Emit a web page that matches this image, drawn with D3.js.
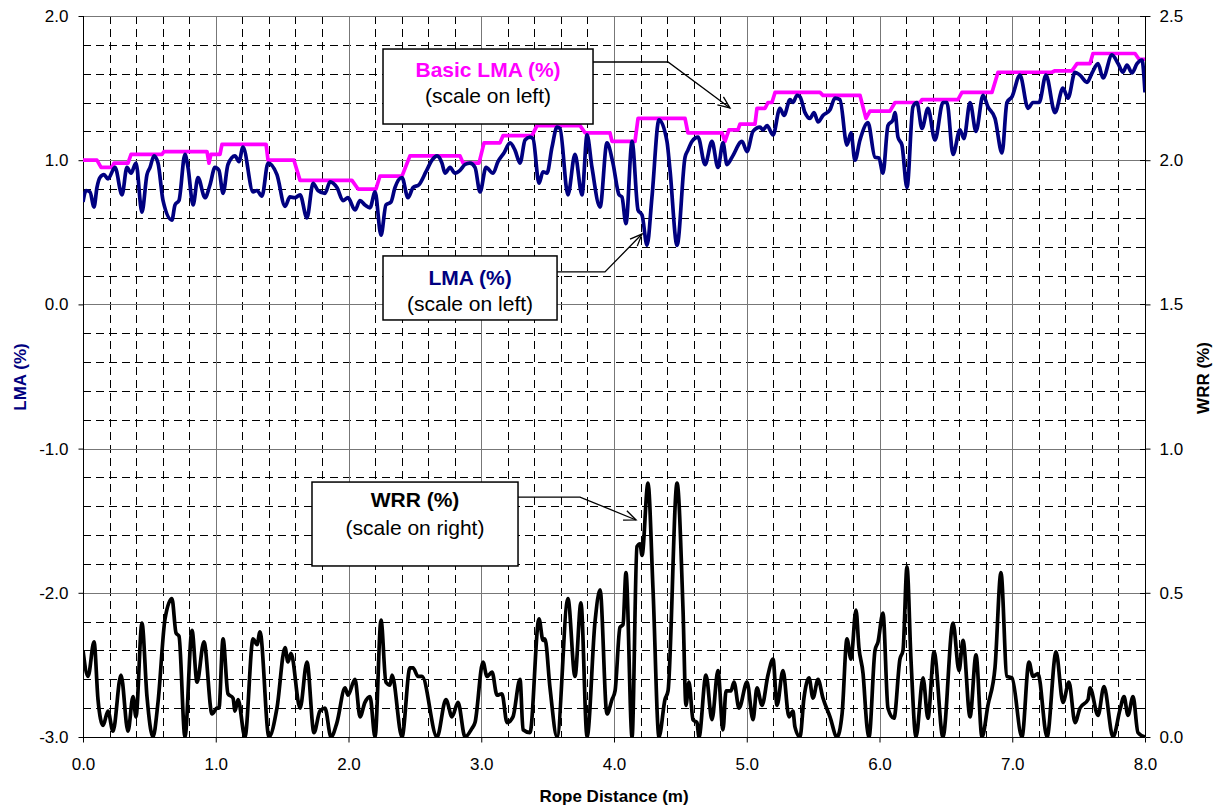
<!DOCTYPE html>
<html>
<head>
<meta charset="utf-8">
<script src="https://cdn.jsdelivr.net/npm/d3@7"></script>
<style>
  body { margin: 0; background: #fff; }
  svg { display: block; }
  text { font-family: Arial, "Liberation Sans", Helvetica, sans-serif; }
</style>
</head>
<body>
<svg id="chart" width="1222" height="806"></svg>
<script>
// ---- Data ----
// Basic LMA (%) - stepped baseline, left scale
const basicLmaDist = [0.000,0.105,0.136,0.218,0.234,0.339,0.362,0.595,0.610,0.934,0.949,0.964,1.032,1.047,1.379,1.394,1.589,1.635,2.026,2.072,2.207,2.237,2.403,2.463,2.840,2.863,2.983,3.021,3.141,3.164,3.382,3.420,3.744,3.782,3.970,3.985,4.158,4.181,4.535,4.557,4.814,4.836,4.866,4.934,4.949,5.062,5.077,5.138,5.160,5.190,5.213,5.552,5.574,5.853,5.898,5.928,6.079,6.117,6.305,6.320,6.591,6.621,6.847,6.893,7.299,7.322,7.450,7.488,7.586,7.608,7.925,7.955,8.000];
const basicLmaValues = [1.00,1.00,0.95,0.95,0.98,0.98,1.04,1.04,1.06,1.06,0.98,1.04,1.04,1.11,1.11,1.00,1.00,0.86,0.86,0.80,0.80,0.89,0.89,1.03,1.03,0.98,0.98,1.12,1.12,1.17,1.17,1.24,1.24,1.19,1.19,1.13,1.13,1.29,1.29,1.19,1.19,1.13,1.21,1.21,1.25,1.25,1.36,1.36,1.40,1.40,1.47,1.47,1.45,1.45,1.29,1.34,1.34,1.40,1.40,1.42,1.42,1.47,1.47,1.61,1.61,1.62,1.62,1.67,1.67,1.74,1.74,1.70,1.70];

// LMA (%) - left scale
const lmaDist = [0.000,0.023,0.053,0.083,0.105,0.128,0.158,0.188,0.241,0.294,0.331,0.362,0.399,0.444,0.482,0.505,0.535,0.565,0.603,0.670,0.693,0.723,0.768,0.791,0.829,0.866,0.919,0.957,0.994,1.024,1.055,1.092,1.145,1.175,1.205,1.281,1.311,1.348,1.394,1.461,1.522,1.559,1.597,1.635,1.687,1.733,1.770,1.823,1.861,1.913,1.959,1.996,2.049,2.087,2.124,2.162,2.200,2.245,2.282,2.320,2.350,2.403,2.448,2.486,2.531,2.584,2.629,2.667,2.704,2.727,2.765,2.802,2.840,2.878,2.915,2.953,2.991,3.036,3.089,3.126,3.171,3.217,3.254,3.292,3.330,3.367,3.390,3.435,3.465,3.495,3.533,3.571,3.593,3.653,3.706,3.759,3.797,3.834,3.895,3.947,3.992,4.038,4.060,4.090,4.136,4.181,4.211,4.249,4.286,4.339,4.399,4.422,4.475,4.535,4.557,4.587,4.633,4.686,4.738,4.783,4.821,4.851,4.889,4.964,5.002,5.047,5.100,5.122,5.153,5.198,5.250,5.281,5.326,5.348,5.379,5.401,5.439,5.476,5.507,5.537,5.574,5.627,5.665,5.702,5.755,5.785,5.815,5.853,5.913,5.966,5.996,6.026,6.064,6.102,6.117,6.139,6.169,6.207,6.252,6.282,6.320,6.365,6.418,6.478,6.508,6.554,6.606,6.636,6.682,6.727,6.780,6.817,6.870,6.923,6.960,6.998,7.058,7.119,7.156,7.202,7.254,7.322,7.382,7.420,7.473,7.510,7.563,7.601,7.646,7.684,7.751,7.797,7.834,7.864,7.902,7.940,7.977,8.000];
const lmaValues = [0.71,0.79,0.78,0.675,0.81,0.88,0.90,0.87,0.95,0.76,0.95,0.91,0.98,0.64,0.90,0.95,1.03,0.98,0.72,0.585,0.69,0.72,1.04,0.95,0.69,0.88,0.74,0.83,0.95,0.93,0.77,0.97,1.03,0.99,1.09,0.78,0.79,0.75,0.98,0.90,0.68,0.745,0.74,0.76,0.60,0.84,0.79,0.77,0.85,0.81,0.72,0.74,0.655,0.72,0.69,0.67,0.78,0.48,0.69,0.71,0.81,0.88,0.74,0.81,0.83,0.92,1.00,1.03,0.98,0.91,0.95,0.91,0.93,0.97,0.98,0.95,0.78,0.95,0.91,0.99,1.05,1.12,1.07,0.98,1.14,1.16,1.15,0.84,0.92,0.91,1.09,1.23,1.22,0.76,1.04,0.76,1.175,0.95,0.675,1.12,0.98,0.76,0.745,0.56,1.13,0.655,0.62,0.41,0.745,1.28,1.13,0.93,0.41,1.02,1.07,1.13,1.16,0.97,1.13,0.95,1.12,0.97,1.02,1.13,1.06,1.20,1.23,1.21,1.24,1.175,1.36,1.31,1.42,1.40,1.45,1.44,1.33,1.29,1.33,1.265,1.31,1.35,1.43,1.42,1.105,1.19,1.00,1.14,1.26,1.02,1.015,0.91,1.24,1.28,1.33,1.16,1.105,0.81,1.37,1.40,1.22,1.36,1.14,1.40,1.40,1.04,1.21,1.15,1.40,1.20,1.45,1.37,1.29,1.05,1.40,1.44,1.59,1.36,1.40,1.40,1.59,1.33,1.50,1.43,1.61,1.59,1.54,1.605,1.67,1.57,1.73,1.67,1.61,1.66,1.605,1.67,1.695,1.47];

// WRR (%) - right scale
const wrrDist = [0.000,0.038,0.083,0.113,0.151,0.188,0.226,0.286,0.339,0.377,0.399,0.444,0.482,0.527,0.565,0.618,0.670,0.701,0.723,0.768,0.821,0.859,0.911,0.972,1.009,1.024,1.055,1.092,1.130,1.145,1.168,1.220,1.281,1.311,1.333,1.401,1.461,1.522,1.544,1.567,1.635,1.687,1.740,1.785,1.823,1.868,1.913,1.974,1.996,2.049,2.087,2.124,2.162,2.200,2.245,2.282,2.313,2.328,2.403,2.463,2.486,2.524,2.554,2.667,2.734,2.780,2.825,2.878,2.930,2.953,3.013,3.043,3.081,3.119,3.156,3.194,3.239,3.292,3.315,3.367,3.435,3.465,3.480,3.518,3.571,3.653,3.706,3.751,3.797,3.857,3.895,3.947,3.985,4.008,4.045,4.068,4.090,4.136,4.173,4.196,4.211,4.256,4.294,4.339,4.384,4.407,4.475,4.520,4.542,4.565,4.595,4.625,4.640,4.693,4.738,4.783,4.821,4.844,4.881,4.904,4.942,5.002,5.047,5.077,5.115,5.160,5.198,5.228,5.273,5.318,5.348,5.363,5.401,5.431,5.469,5.499,5.537,5.574,5.627,5.680,5.718,5.755,5.785,5.823,5.845,5.876,5.906,5.921,5.966,5.989,6.026,6.064,6.109,6.154,6.177,6.207,6.237,6.275,6.328,6.365,6.411,6.478,6.554,6.599,6.629,6.682,6.727,6.772,6.817,6.870,6.915,6.960,6.998,7.073,7.126,7.156,7.194,7.262,7.330,7.382,7.427,7.473,7.510,7.571,7.586,7.646,7.691,7.759,7.812,7.842,7.872,7.910,7.947,8.000];
const wrrValues = [0.30,0.21,0.33,0.13,0.04,0.09,0.02,0.215,0.02,0.14,0.07,0.395,0.14,0.00,0.12,0.41,0.48,0.36,0.35,0.00,0.37,0.19,0.33,0.08,0.10,0.10,0.34,0.15,0.135,0.09,0.13,0.00,0.34,0.32,0.365,0.00,0.10,0.31,0.26,0.29,0.10,0.26,0.015,0.09,0.10,0.00,0.05,0.17,0.145,0.20,0.07,0.12,0.14,0.00,0.405,0.19,0.18,0.215,0.00,0.24,0.24,0.21,0.21,0.00,0.13,0.07,0.12,0.00,0.03,0.05,0.26,0.21,0.225,0.145,0.15,0.05,0.07,0.20,0.025,0.015,0.41,0.335,0.34,0.17,0.00,0.48,0.21,0.465,0.00,0.40,0.51,0.08,0.13,0.16,0.38,0.39,0.57,0.00,0.66,0.67,0.63,0.88,0.51,0.00,0.13,0.16,0.88,0.44,0.11,0.19,0.06,0.05,0.00,0.215,0.06,0.23,0.025,0.16,0.16,0.19,0.10,0.19,0.06,0.17,0.11,0.215,0.27,0.11,0.23,0.07,0.09,0.035,0.00,0.135,0.205,0.135,0.20,0.135,0.07,0.00,0.08,0.34,0.27,0.44,0.31,0.22,0.035,0.00,0.30,0.33,0.43,0.10,0.065,0.27,0.30,0.59,0.27,0.00,0.205,0.065,0.295,0.00,0.395,0.23,0.335,0.07,0.285,0.00,0.11,0.24,0.57,0.21,0.205,0.00,0.26,0.21,0.22,0.00,0.295,0.12,0.19,0.05,0.10,0.13,0.17,0.075,0.175,0.00,0.095,0.14,0.075,0.14,0.015,0.00];

// Axis ticks
const xTicks = [0,1,2,3,4,5,6,7,8];
const leftTicks = [-3,-2,-1,0,1,2];
const rightTicks = [0,0.5,1.0,1.5,2.0,2.5];

// ---- Layout ----
const svg = d3.select("#chart");
const W = 1222, H = 806;
const plot = { left: 83, right: 1145, top: 16, bottom: 737 };

const x = d3.scaleLinear().domain([0, 8]).range([plot.left, plot.right]);
const yL = d3.scaleLinear().domain([-3, 2]).range([plot.bottom, plot.top]);
const yR = d3.scaleLinear().domain([0, 2.5]).range([plot.bottom, plot.top]);

svg.append("rect").attr("width", W).attr("height", H).attr("fill", "#fff");

// Gridlines: dashed minor every 0.2 units, solid major every 1.0
const grid = svg.append("g");
const minorX = d3.range(0, 8.001, 0.2).filter(v => Math.abs(v - Math.round(v)) > 1e-6);
const minorY = d3.range(-3, 2.001, 0.2).filter(v => Math.abs(v - Math.round(v)) > 1e-6);
grid.selectAll(".mx").data(minorX).join("line")
  .attr("x1", d => Math.round(x(d)) + 0.5).attr("x2", d => Math.round(x(d)) + 0.5)
  .attr("y1", plot.top).attr("y2", plot.bottom)
  .attr("stroke", "#000").attr("stroke-width", 1).attr("stroke-dasharray", "8,5");
grid.selectAll(".my").data(minorY).join("line")
  .attr("y1", d => Math.round(yL(d)) + 0.5).attr("y2", d => Math.round(yL(d)) + 0.5)
  .attr("x1", plot.left).attr("x2", plot.right)
  .attr("stroke", "#000").attr("stroke-width", 1).attr("stroke-dasharray", "8,5");
grid.selectAll(".Mx").data(xTicks).join("line")
  .attr("x1", d => Math.round(x(d)) + 0.5).attr("x2", d => Math.round(x(d)) + 0.5)
  .attr("y1", plot.top).attr("y2", plot.bottom)
  .attr("stroke", "#777").attr("stroke-width", 1);
grid.selectAll(".My").data(leftTicks).join("line")
  .attr("y1", d => Math.round(yL(d)) + 0.5).attr("y2", d => Math.round(yL(d)) + 0.5)
  .attr("x1", plot.left).attr("x2", plot.right)
  .attr("stroke", "#777").attr("stroke-width", 1);

// ---- Axes ----
const fmt = d => d.toFixed(1);
const axisFont = 17;

const xAxis = svg.append("g").attr("transform", `translate(0,${plot.bottom + 0.5})`)
  .call(d3.axisBottom(x).tickValues(xTicks).tickFormat(fmt).tickSize(5).tickPadding(15));
const leftAxis = svg.append("g").attr("transform", `translate(${plot.left + 0.5},0)`)
  .call(d3.axisLeft(yL).tickValues(leftTicks).tickFormat(fmt).tickSize(5).tickPadding(10));
const rightAxis = svg.append("g").attr("transform", `translate(${plot.right + 0.5},0)`)
  .call(d3.axisRight(yR).tickValues(rightTicks).tickFormat(fmt).tickSize(5).tickPadding(9));
// inner minor ticks on the right axis
svg.append("g").selectAll("line").data(d3.range(0, 2.501, 0.1)).join("line")
  .attr("x1", plot.right - 4).attr("x2", plot.right)
  .attr("y1", d => Math.round(yR(d)) + 0.5).attr("y2", d => Math.round(yR(d)) + 0.5)
  .attr("stroke", "#000");
// right major ticks cross the axis line
svg.append("g").selectAll("line").data(rightTicks).join("line")
  .attr("x1", plot.right - 5).attr("x2", plot.right)
  .attr("y1", d => Math.round(yR(d)) + 0.5).attr("y2", d => Math.round(yR(d)) + 0.5)
  .attr("stroke", "#000");

[xAxis, leftAxis, rightAxis].forEach(g => {
  g.select(".domain").attr("stroke", "#000").attr("stroke-width", 1);
  g.selectAll(".tick line").attr("stroke", "#000");
  g.selectAll(".tick text").attr("font-size", axisFont).attr("fill", "#000")
    .attr("font-family", "Arial, 'Liberation Sans', sans-serif");
});
xAxis.select(".domain").attr("d", `M${plot.left},0H${plot.right}`);
leftAxis.select(".domain").attr("d", `M0,${plot.top}V${plot.bottom}`);
rightAxis.select(".domain").attr("d", `M0,${plot.top}V${plot.bottom}`);

// Axis titles
svg.append("text").attr("x", 614).attr("y", 802).attr("text-anchor", "middle")
  .attr("font-size", 17).attr("font-weight", "bold").text("Rope Distance (m)");
svg.append("text").attr("transform", `translate(26,377) rotate(-90)`).attr("text-anchor", "middle")
  .attr("font-size", 17).attr("font-weight", "bold").attr("fill", "#000080").text("LMA (%)");
svg.append("text").attr("transform", `translate(1209,378) rotate(-90)`).attr("text-anchor", "middle")
  .attr("font-size", 17).attr("font-weight", "bold").attr("fill", "#000").text("WRR (%)");

// ---- Series ----
svg.append("clipPath").attr("id", "plotClip").append("rect")
  .attr("x", plot.left).attr("y", plot.top - 2)
  .attr("width", plot.right - plot.left).attr("height", plot.bottom - plot.top + 2);

const series = svg.append("g").attr("clip-path", "url(#plotClip)");
const lineWidth = 3.7;

const wrrLine = d3.line().x((d, i) => x(wrrDist[i])).y(d => yR(d)).curve(d3.curveMonotoneX);
series.append("path").attr("d", wrrLine(wrrValues))
  .attr("fill", "none").attr("stroke", "#000").attr("stroke-width", lineWidth)
  .attr("stroke-linejoin", "round");

const basicLine = d3.line().x((d, i) => x(basicLmaDist[i])).y(d => yL(d));
series.append("path").attr("d", basicLine(basicLmaValues))
  .attr("fill", "none").attr("stroke", "#ff00ff").attr("stroke-width", lineWidth)
  .attr("stroke-linejoin", "round");

const lmaLine = d3.line().x((d, i) => x(lmaDist[i])).y(d => yL(d)).curve(d3.curveMonotoneX);
series.append("path").attr("d", lmaLine(lmaValues))
  .attr("fill", "none").attr("stroke", "#000080").attr("stroke-width", lineWidth)
  .attr("stroke-linejoin", "round");

// ---- Callouts (positions in chart units on the left scale) ----
const callouts = [
  { title: "Basic LMA (%)", note: "(scale on left)", color: "#ff00ff", t1: 28, t2: 54,
    box: [2.26, 3.842, 1.771, 1.251], path: [[3.842, 1.681], [4.407, 1.681], [4.874, 1.362]] },
  { title: "LMA (%)", note: "(scale on left)", color: "#000080", t1: 29, t2: 55,
    box: [2.26, 3.571, 0.336, -0.108], path: [[3.571, 0.225], [3.932, 0.225], [4.211, 0.488]] },
  { title: "WRR (%)", note: "(scale on right)", color: "#000", t1: 25, t2: 53,
    box: [1.725, 3.277, -1.232, -1.814], path: [[3.277, -1.336], [3.744, -1.336], [4.166, -1.495]] }
];

const notes = svg.append("g");
callouts.forEach(c => {
  const [x0, x1, y0, y1] = c.box;
  const bx = x(x0), by = yL(y0), bw = x(x1) - x(x0), bh = yL(y1) - yL(y0);
  // leader line with open arrow head
  const pts = c.path.map(p => [x(p[0]), yL(p[1])]);
  notes.append("path").attr("d", d3.line()(pts)).attr("fill", "none")
    .attr("stroke", "#000").attr("stroke-width", 1.3);
  const [ax, ay] = pts[pts.length - 1];
  const [px, py] = pts[pts.length - 2];
  const ang = Math.atan2(ay - py, ax - px);
  const len = 13, spread = 0.4;
  const head = [
    [ax - len * Math.cos(ang - spread), ay - len * Math.sin(ang - spread)],
    [ax, ay],
    [ax - len * Math.cos(ang + spread), ay - len * Math.sin(ang + spread)]
  ];
  notes.append("path").attr("d", d3.line()(head)).attr("fill", "none")
    .attr("stroke", "#000").attr("stroke-width", 1.3);
  // box with text
  notes.append("rect").attr("x", bx).attr("y", by).attr("width", bw).attr("height", bh)
    .attr("fill", "#fff").attr("stroke", "#000").attr("stroke-width", 1.5);
  notes.append("text").attr("x", bx + bw / 2).attr("y", by + c.t1)
    .attr("text-anchor", "middle").attr("font-size", 21).attr("font-weight", "bold")
    .attr("fill", c.color).text(c.title);
  notes.append("text").attr("x", bx + bw / 2).attr("y", by + c.t2)
    .attr("text-anchor", "middle").attr("font-size", 21).attr("fill", "#000").text(c.note);
});
</script>
</body>
</html>
